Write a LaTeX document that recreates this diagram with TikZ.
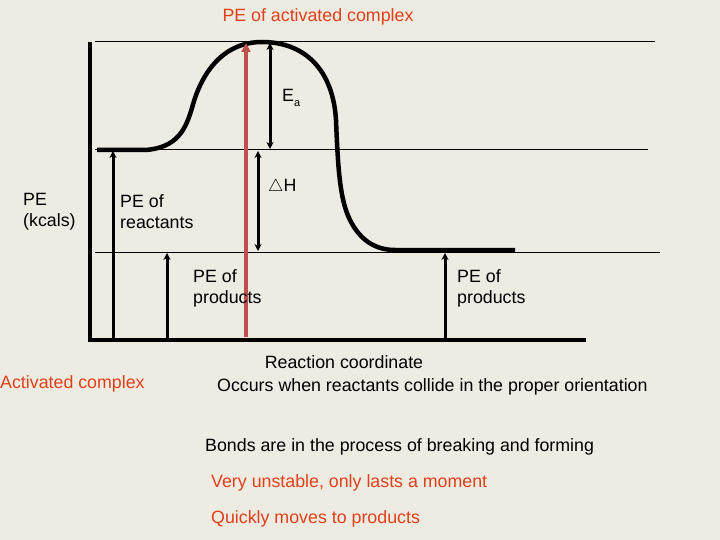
\documentclass[tikz,border=0pt]{standalone}
\usepackage{fontspec}
\setmainfont{Liberation Sans}
\usetikzlibrary{arrows.meta}
\definecolor{bg}{HTML}{EEEBE2}
\definecolor{txtred}{HTML}{E0401A}
\definecolor{redline}{HTML}{C0504D}
\begin{document}
\begin{tikzpicture}[x=1pt,y=-1pt,
  lbl/.style={font=\fontsize{17.8}{21.5}\selectfont,align=left,inner sep=0pt},
  rlbl/.style={lbl,text=txtred},
  thin/.style={line width=1pt},
  axis/.style={line width=3.5pt},
  up/.style={line width=3pt,-{Stealth[length=7pt,width=7pt]}},
  dbl/.style={line width=3pt,{Stealth[length=7pt,width=7pt]}-{Stealth[length=7pt,width=7pt]}}]
\fill[bg] (0,0) rectangle (720,540);
\useasboundingbox (0,0) rectangle (720,540);
% thin levels
\coordinate (t1) at (95,42); \coordinate (t2) at (655,42);
\coordinate (r1) at (95,150); \coordinate (r2) at (648,150);
\coordinate (p1) at (95,252); \coordinate (p2) at (660,252);
\draw[thin] (t1)--(t2); \draw[thin] (r1)--(r2); \draw[thin] (p1)--(p2);
% axes
\coordinate (o) at (90,340); \coordinate (ytop) at (90,42); \coordinate (xend) at (586,340);
\draw[axis] (ytop)--(o)--(xend);
% curve
\draw[line width=4.5pt] (97,150) -- (145,150)
  .. controls (178,148) and (186,128) .. (192,108)
  .. controls (202,70) and (225,42) .. (262,42)
  .. controls (305,42) and (333,70) .. (336,120)
  .. controls (338,170) and (340,200) .. (350,220)
  .. controls (360,240) and (375,250) .. (395,250) -- (515,250);
% vertical arrows
\coordinate (a1b) at (113,340); \coordinate (a1t) at (113,151);
\coordinate (a2b) at (167,340); \coordinate (a2t) at (167,253);
\coordinate (a3b) at (445,340); \coordinate (a3t) at (445,253);
\draw[up] (a1b)--(a1t); \draw[up] (a2b)--(a2t); \draw[up] (a3b)--(a3t);
\coordinate (ea1) at (270,43); \coordinate (ea2) at (270,149);
\draw[dbl] (ea1)--(ea2);
\coordinate (dh1) at (258,151); \coordinate (dh2) at (258,251);
\draw[dbl] (dh1)--(dh2);
\coordinate (rb) at (246,337); \coordinate (rt) at (246,43);
\draw[line width=3.5pt,redline,-{Triangle[length=9pt,width=9pt]}] (rb)--(rt);
% labels
\node[rlbl,anchor=center] (pac) at (318,17) {PE of activated complex};
\node[lbl,anchor=west] (ea) at (282,98) {E\raisebox{-0.5ex}{\fontsize{11}{12}\selectfont a}};
\node[lbl,anchor=west] (dh) at (268,187) {$\triangle$H};
\node[lbl,anchor=north west] (pek) at (23,193) {PE\\(kcals)};
\node[lbl,anchor=north west] (per) at (120,194) {PE of\\reactants};
\node[lbl,anchor=north west] (pep1) at (193,269) {PE of\\products};
\node[lbl,anchor=north west] (pep2) at (457,269) {PE of\\products};
\node[lbl,anchor=center] (rc) at (344,362) {Reaction coordinate};
\node[rlbl,anchor=west] (ac) at (0,384) {Activated complex};
\node[lbl,anchor=west] (oc) at (217,387) {Occurs when reactants collide in the proper orientation};
\node[lbl,anchor=west] (bd) at (205,447) {Bonds are in the process of breaking and forming};
\node[rlbl,anchor=west] (vu) at (211,483) {Very unstable, only lasts a moment};
\node[rlbl,anchor=west] (qm) at (211,519) {Quickly moves to products};
\end{tikzpicture}
\end{document}
